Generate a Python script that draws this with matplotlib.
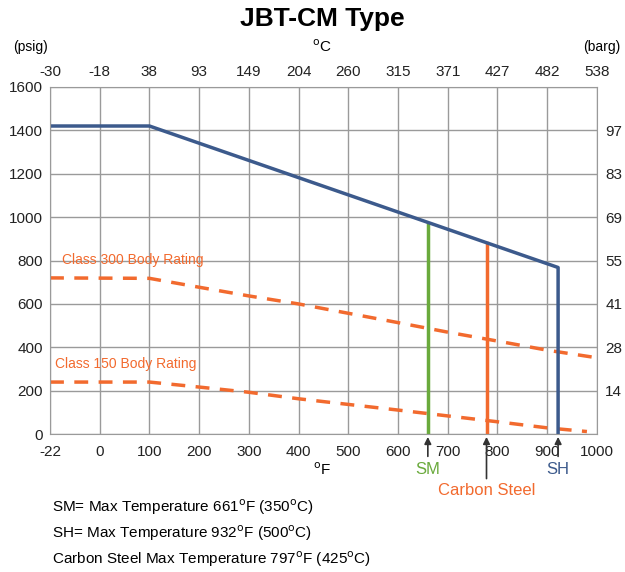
import numpy as np
import matplotlib
matplotlib.use('Agg')
import matplotlib.pyplot as plt

plt.rcParams['font.family'] = ['Liberation Sans', 'DejaVu Sans']

# axis ticks (evenly spaced on the chart, not linear in value)
f_ticks = [-22, 0, 100, 200, 300, 400, 500, 600, 700, 800, 900, 1000]
c_ticks = [-30, -18, 38, 93, 149, 204, 260, 315, 371, 427, 482, 538]
psig_ticks = [0, 200, 400, 600, 800, 1000, 1200, 1400, 1600]
barg_ticks = [14, 28, 41, 55, 69, 83, 97]

# JBT-CM rating (deg F, psig)
cm_temp = [-22, 100, 922, 922]
cm_press = [1420, 1420, 768, 0]

# body ratings (deg F, psig)
cl300_temp = [-22, 100, 200, 300, 400, 500, 600, 700, 800, 900, 1000]
cl300_press = [720, 718, 677, 637, 600, 557, 514, 470, 429, 387, 352]
cl150_temp = [-22, 100, 200, 300, 400, 500, 600, 700, 800, 900, 980]
cl150_press = [240, 240, 217, 193, 163, 137, 111, 84, 57, 29, 12]

# max temperature markers
sm_temp, sm_top = 660, 970
cs_temp, cs_top = 778, 881

blue = '#3c5a8c'
green = '#6aaa3c'
orange = '#f26a2e'
grid_c = '#9a9a9a'


def pos(f):
    # map deg F onto the evenly spaced tick positions
    return np.interp(f, f_ticks, np.arange(len(f_ticks)))


fig = plt.figure(figsize=(6.25, 5.72), dpi=100)
ax = fig.add_axes([0.08, 0.241, 0.875, 0.607])

ax.plot(pos(cl300_temp), cl300_press, color=orange, lw=2.5, dashes=(4, 3))
ax.plot(pos(cl150_temp), cl150_press, color=orange, lw=2.5, dashes=(4, 3))
ax.plot(pos([sm_temp, sm_temp]), [0, sm_top], color=green, lw=2.5)
ax.plot(pos([cs_temp, cs_temp]), [0, cs_top], color=orange, lw=2.5)
ax.plot(pos(cm_temp), cm_press, color=blue, lw=2.5)

ax.set_xlim(0, len(f_ticks) - 1)
ax.set_ylim(0, 1600)
ax.set_xticks(np.arange(len(f_ticks)))
ax.set_xticklabels([str(v) for v in f_ticks])
ax.set_yticks(psig_ticks)
ax.grid(True, color=grid_c, lw=1)
ax.set_axisbelow(True)
for s in ax.spines.values():
    s.set_color(grid_c)
ax.tick_params(length=0, labelsize=11, colors='#222222')
ax.tick_params(axis='x', pad=8)
ax.tick_params(axis='y', pad=5)

top = ax.twiny()
top.set_xlim(ax.get_xlim())
top.set_xticks(np.arange(len(c_ticks)))
top.set_xticklabels([str(v) for v in c_ticks])
top.tick_params(length=0, labelsize=11, colors='#222222', pad=6)
for s in top.spines.values():
    s.set_visible(False)

right = ax.twinx()
right.set_ylim(0, 1600)
right.set_yticks([200, 400, 600, 800, 1000, 1200, 1400])
right.set_yticklabels([str(v) for v in barg_ticks])
right.tick_params(length=0, labelsize=11, colors='#222222', pad=6)
for s in right.spines.values():
    s.set_visible(False)

ax.text(0.24, 770, 'Class 300 Body Rating', color=orange, fontsize=10, va='bottom')
ax.text(0.1, 290, 'Class 150 Body Rating', color=orange, fontsize=10, va='bottom')

# arrows and labels under the axis
arrow = dict(arrowstyle='-|>', color='#333333', lw=1.2, mutation_scale=10)
for t, length, gap, label, col in [(sm_temp, 18, 20, 'SM', green),
                                   (cs_temp, 34, 35, 'Carbon Steel', orange),
                                   (cm_temp[-1], 18, 20, 'SH', blue)]:
    ax.annotate('', xy=(pos(t), 0), xytext=(0, -length),
                xycoords='data', textcoords='offset points',
                arrowprops=arrow, annotation_clip=False)
    ax.annotate(label, xy=(pos(t), 0), xytext=(0, -gap),
                xycoords='data', textcoords='offset points',
                ha='center', va='top', color=col, fontsize=12,
                annotation_clip=False)

fig.text(0.515, 0.966, 'JBT-CM Type', ha='center', va='center',
         fontsize=19, fontweight='bold')
fig.text(0.515, 0.918, '$^{\\mathrm{o}}$C', ha='center', va='center', fontsize=11)
fig.text(0.048, 0.918, '(psig)', ha='center', va='center', fontsize=10)
fig.text(0.962, 0.918, '(barg)', ha='center', va='center', fontsize=10)
fig.text(0.515, 0.178, '$^{\\mathrm{o}}$F', ha='center', va='center', fontsize=11)

notes = ['SM= Max Temperature 661$^{\\mathrm{o}}$F (350$^{\\mathrm{o}}$C)',
         'SH= Max Temperature 932$^{\\mathrm{o}}$F (500$^{\\mathrm{o}}$C)',
         'Carbon Steel Max Temperature 797$^{\\mathrm{o}}$F (425$^{\\mathrm{o}}$C)']
for i, n in enumerate(notes):
    fig.text(0.083, 0.113 - i * 0.045, n, ha='left', va='center', fontsize=11)

fig.savefig('out.png', dpi=100)
